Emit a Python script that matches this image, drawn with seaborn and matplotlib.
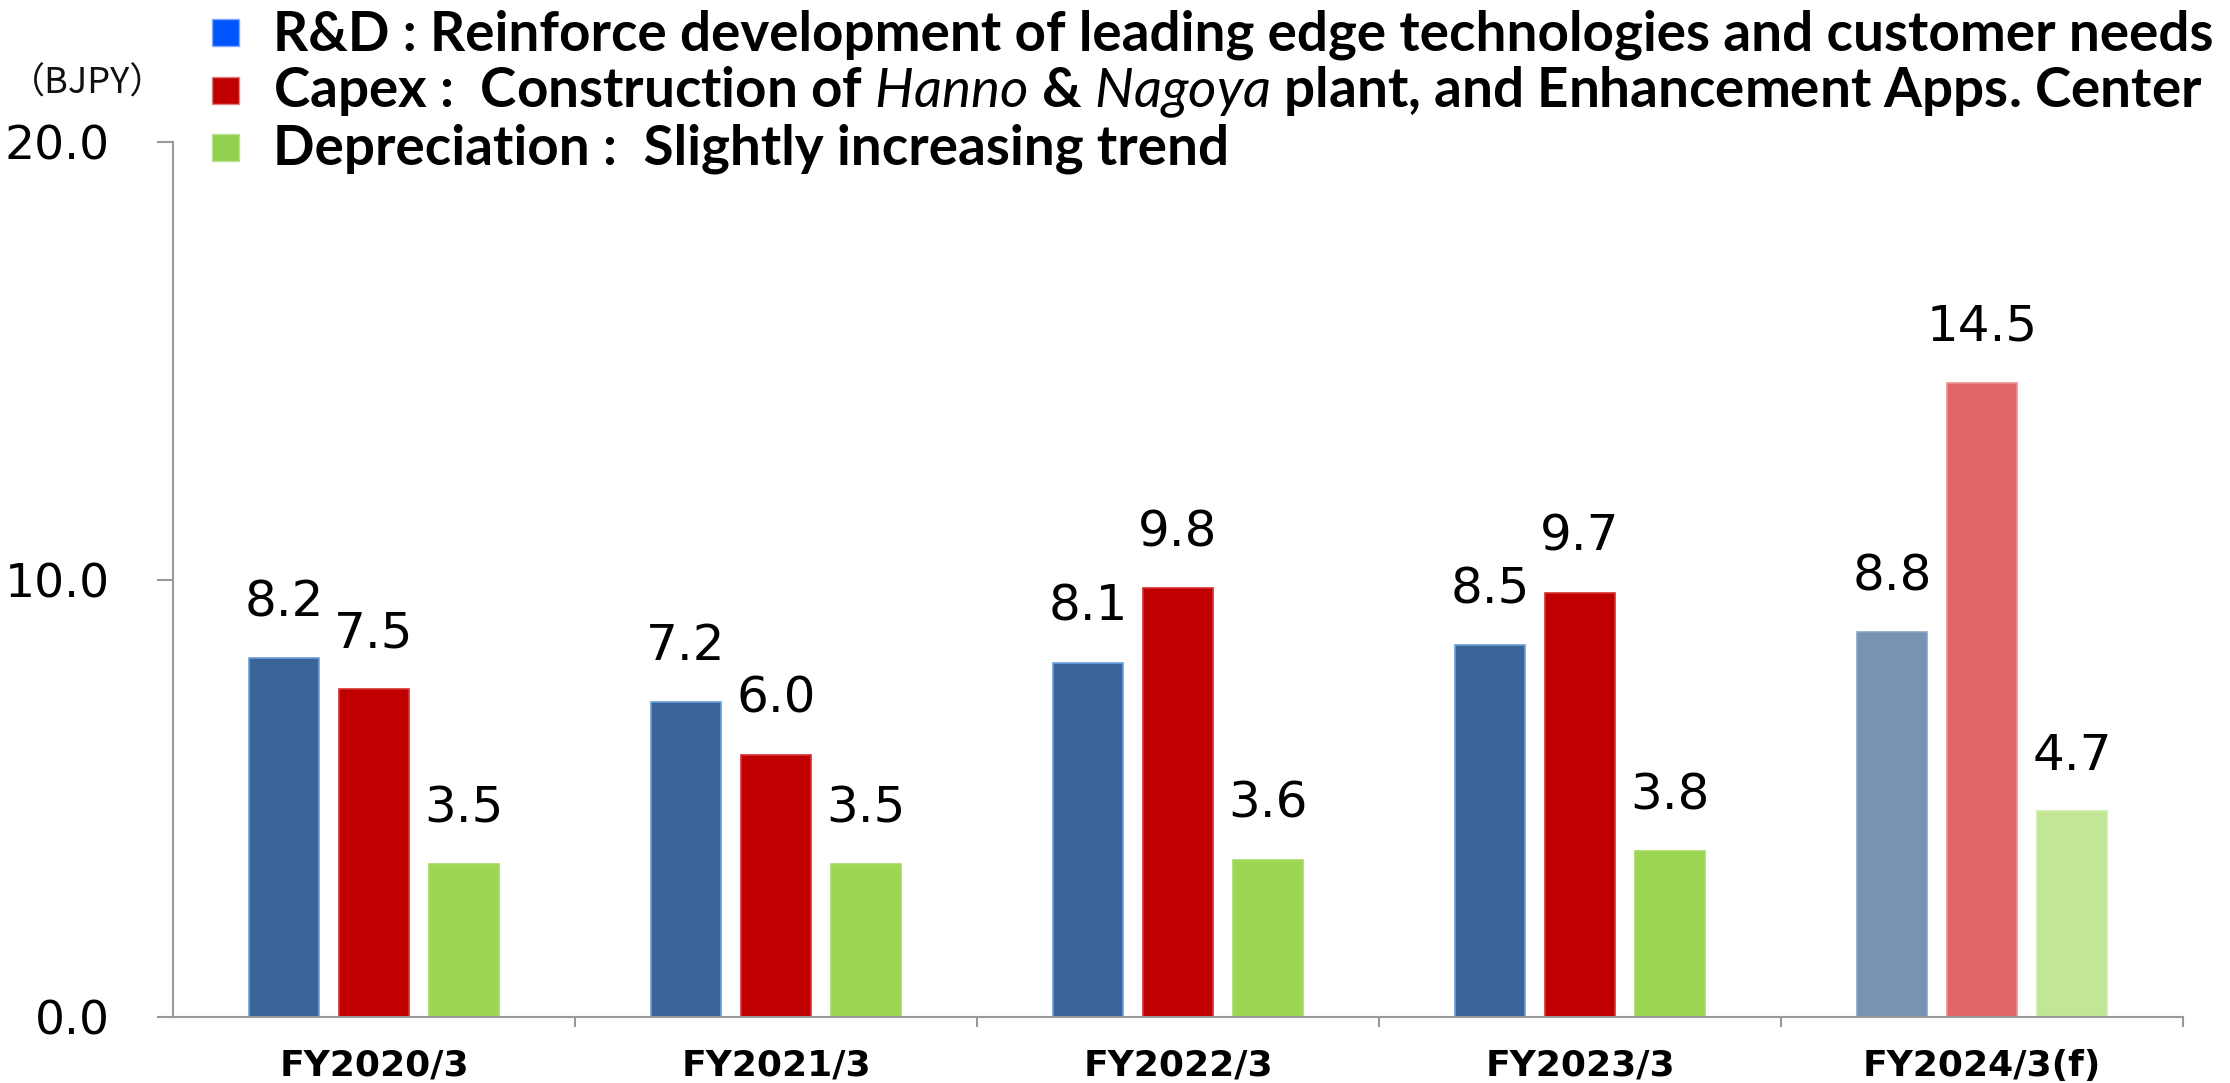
import numpy as np
import pandas as pd
import seaborn as sns
import matplotlib.pyplot as plt
from matplotlib.patches import Rectangle
from matplotlib.ticker import FormatStrFormatter, FixedLocator

# data (BJPY)
years = ["FY2020/3", "FY2021/3", "FY2022/3", "FY2023/3", "FY2024/3(f)"]
items = ["R&D", "Capex", "Depreciation"]
rnd = [8.2, 7.2, 8.1, 8.5, 8.8]
capex = [7.5, 6.0, 9.8, 9.7, 14.5]
depreciation = [3.5, 3.5, 3.6, 3.8, 4.7]

legend_text = [
    "R&D : Reinforce development of leading edge technologies and customer needs",
    r"Capex :  Construction of $\mathit{Hanno}$ & $\mathit{Nagoya}$ plant, and Enhancement Apps. Center",
    "Depreciation :  Slightly increasing trend",
]

bar_colors = ["#3B6598", "#C00000", "#9BD753"]
edge_colors = ["#6C9ED8", "#D83030", "#A4DB62"]
forecast_colors = ["#7892B4", "#E06666", "#C2E696"]
forecast_edges = ["#8AA3C2", "#EC9090", "#CDEBA8"]
legend_colors = ["#0055FF", "#C00000", "#92D050"]
legend_edges = ["#80AAFF", "#E08080", "#B8E290"]

df = pd.DataFrame({
    "year": years * 3,
    "item": np.repeat(items, len(years)),
    "value": rnd + capex + depreciation,
})

sns.set_style("white")
plt.rcParams["font.family"] = ["DejaVu Sans"]
plt.rcParams["mathtext.fontset"] = "custom"
plt.rcParams["mathtext.it"] = "Lato:italic"

W, H = 2230, 1083
fig = plt.figure(figsize=(W / 100, H / 100), dpi=100)
ax = fig.add_axes([173 / W, 66 / H, 2010 / W, 875 / H])

sns.barplot(data=df, x="year", y="value", hue="item", hue_order=items,
            palette=bar_colors, saturation=1, width=0.672, gap=0.22,
            errorbar=None, legend=False, ax=ax)

# forecast year in lighter tones, value labels above each bar
for i, bars in enumerate(ax.containers):
    for j, bar in enumerate(bars):
        bar.set_edgecolor(edge_colors[i])
        bar.set_linewidth(1.2)
        if j == len(years) - 1:
            bar.set_facecolor(forecast_colors[i])
            bar.set_edgecolor(forecast_edges[i])
        ax.annotate(f"{bar.get_height():.1f}",
                    (bar.get_x() + bar.get_width() / 2, bar.get_height()),
                    xytext=(0, 30), textcoords="offset points",
                    ha="center", va="baseline", fontsize=36, color="black")

ax.set_xlim(-0.5, len(years) - 0.5)
ax.set_ylim(0, 20)
ax.set_yticks([0, 10, 20])
ax.yaxis.set_major_formatter(FormatStrFormatter("%.1f"))
ax.xaxis.set_minor_locator(FixedLocator(np.arange(0.5, len(years), 1)))
ax.set_xlabel("")
ax.set_ylabel("")

ax.tick_params(axis="y", left=True, length=11.5, width=1.5, color="#999999",
               pad=34, labelsize=34, labelcolor="black", direction="out")
ax.tick_params(axis="x", which="major", bottom=True, length=0, pad=23,
               labelsize=26, labelcolor="black")
ax.tick_params(axis="x", which="minor", bottom=True, length=7.5, width=1.5,
               color="#999999", direction="out")
for lab in ax.get_xticklabels():
    lab.set_fontweight("bold")

sns.despine(ax=ax)
for side in ["left", "bottom"]:
    ax.spines[side].set_color("#999999")
    ax.spines[side].set_linewidth(1.5)

# unit label
fig.text(88 / W, 1 - 84 / H, "（BJPY）", family=["Noto Sans CJK JP", "DejaVu Sans"],
         fontsize=26, ha="center", va="center", color="#111111")

# legend block at the top, sized so the first line spans the reference width
renderer = fig.canvas.get_renderer()
probe = fig.text(0, 0, legend_text[0], fontsize=30, family="Lato", weight="bold")
legend_size = 30 * 1939 / probe.get_window_extent(renderer).width
probe.remove()

for i, (label, color) in enumerate(zip(legend_text, legend_colors)):
    base = 50 + 57.5 * i
    fig.text(273 / W, 1 - base / H, label, fontsize=legend_size, family="Lato",
             weight="bold", va="baseline", color="black")
    fig.add_artist(Rectangle((212 / W, 1 - (base - 4) / H), 27 / W, 27 / H,
                             transform=fig.transFigure, facecolor=color,
                             edgecolor=legend_edges[i], linewidth=1))

fig.savefig("out.png", dpi=100)
